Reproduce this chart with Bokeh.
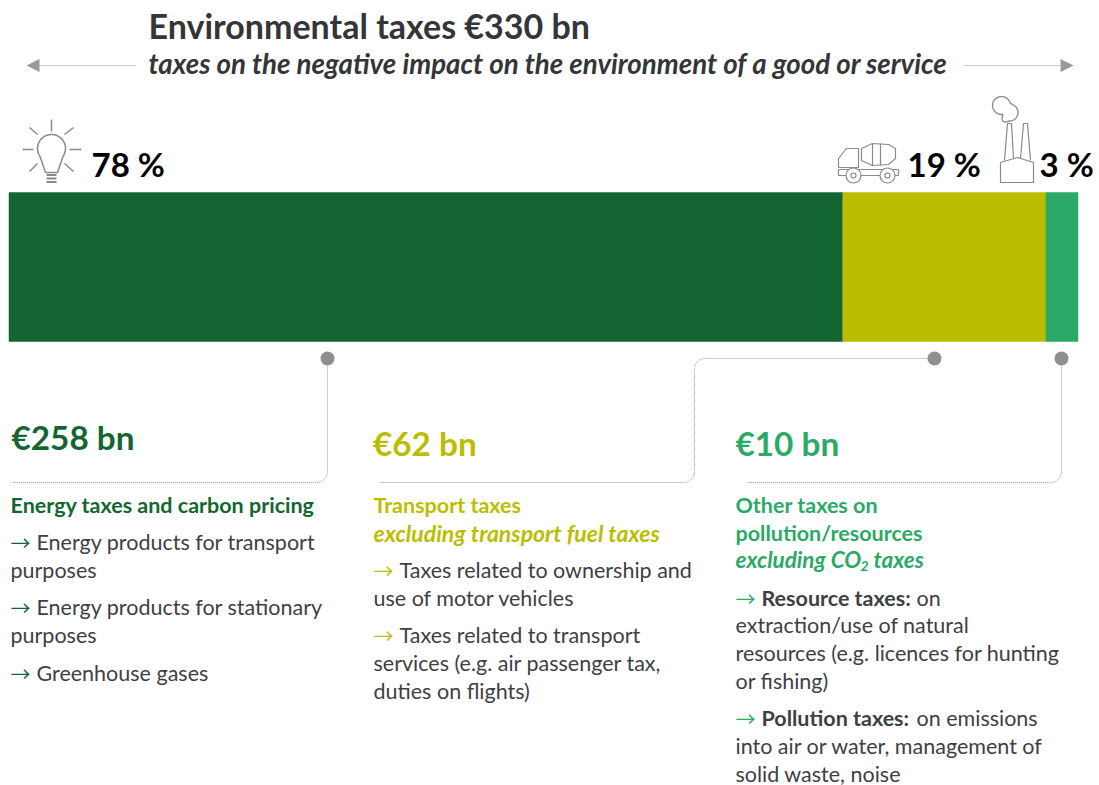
from bokeh.embed import file_html
from bokeh.resources import INLINE
from bokeh.plotting import figure
from bokeh.models import Range1d
from bokeh.core.properties import value
import numpy as np

# ---- data ----
categories = ["Energy taxes and carbon pricing", "Transport taxes", "Other taxes"]
shares = [78, 19, 3]
amounts = ["€258 bn", "€62 bn", "€10 bn"]
colors = ["#136631", "#BBBE00", "#2BAA67"]
share_labels = ["78 %", "19 %", "3 %"]

FONT = "Lato"
DARK = "#333539"
BODYC = "#3E4044"
GREY = "#8F8F8F"
W, H = 1099, 785
BAR_L, BAR_R = 8.5, 1077.5

px_per_pct = (BAR_R - BAR_L) / 100
p = figure(width=W, height=H, output_backend="svg", toolbar_location=None,
           x_range=Range1d((0 - BAR_L) / px_per_pct, (W - BAR_L) / px_per_pct),
           y_range=Range1d(H, 0), min_border=0, outline_line_color=None,
           x_axis_type=None, y_axis_type=None)
p.grid.visible = False
p.background_fill_color = "white"
p.extra_x_ranges = {"px": Range1d(0, W)}

left = np.cumsum([0] + shares[:-1])
right = np.cumsum(shares)
p.hbar(y=[266.5] * 3, height=149, left=left.tolist(), right=right.tolist(), color=colors,
       line_color=colors, line_width=0.5)


def T(x, y, s, size, color=DARK, bold=False, italic=False, align="left", font=None):
    style = "bold italic" if bold and italic else "bold" if bold else "italic" if italic else "normal"
    p.text([x - 1], [y - 2], text=[s], x_range_name="px", text_font=value(font or FONT), text_font_size=f"{size}px",
           text_color=color, text_font_style=style, text_baseline="middle", text_align=align)


def L(xs, ys, color=GREY, width=1.0, dash="solid"):
    p.line(xs, ys, x_range_name="px", line_color=color, line_width=width, line_dash=dash)


def rounded_path(points, r=12):
    xs, ys = [], []
    pts = [np.array(q, float) for q in points]
    xs.append(pts[0][0]); ys.append(pts[0][1])
    for a, b, c in zip(pts, pts[1:], pts[2:]):
        u = (a - b) / np.linalg.norm(a - b)
        v = (c - b) / np.linalg.norm(c - b)
        for t in np.linspace(0, 1, 10):
            q = (1 - t) ** 2 * (b + u * r) + 2 * (1 - t) * t * b + t ** 2 * (b + v * r)
            xs.append(q[0]); ys.append(q[1])
    xs.append(pts[-1][0]); ys.append(pts[-1][1])
    return xs, ys


def arc(cx, cy, r, a0, a1, n=24):
    t = np.radians(np.linspace(a0, a1, n))
    return (cx + r * np.cos(t)).tolist(), (cy + r * np.sin(t)).tolist()


# ---- header ----
T(149, 27, "Environmental taxes €330 bn", 34, bold=True)
T(149, 65, "taxes on the negative impact on the environment of a good or service", 27.7, bold=True, italic=True)
L([38, 135], [65, 65], "#9A9A9A", 1, "1 1")
L([964, 1060], [65, 65], "#9A9A9A", 1, "1 1")
p.patch([26, 39, 39], [65, 58.5, 71.5], x_range_name="px", color="#9A9A9A", line_color=None)
p.patch([1073, 1060, 1060], [65, 58.5, 71.5], x_range_name="px", color="#9A9A9A", line_color=None)

# ---- share labels ----
T(92, 165, share_labels[0], 33, "#000000", bold=True)
T(908, 165, share_labels[1], 33, "#000000", bold=True)
T(1040, 165, share_labels[2], 33, "#000000", bold=True)

# ---- bulb icon ----
IC = "#8A8A8A"
bx, by = arc(51, 148, 14, -215, 35, 40)
L([45] + bx + [57, 45], [172] + by + [172, 172], IC, 1.5)
for yy in (174.5, 178, 181.5):
    L([46, 56], [yy, yy], IC, 1.8)
for x0, y0, x1, y1 in [(51, 119, 51, 131), (22, 149, 33, 149), (69, 149, 81, 149),
                       (29, 127, 37, 134), (73, 127, 64, 134), (29, 171, 37, 163), (73, 171, 64, 163)]:
    L([x0, x1], [y0, y1], IC, 1.5)

# ---- truck icon ----
L([838, 838, 846, 858, 858, 838], [167, 158, 148, 148, 167, 167], IC, 1.2)
L([838, 898, 898, 838, 838], [169, 169, 175, 175, 169], IC, 1.2)
L([861, 861, 872, 888, 895, 895, 888, 872, 861], [148, 160, 165, 164, 158, 148, 144, 143, 148], IC, 1.2)
L([872, 872], [143, 165], IC, 1.2)
L([880, 880], [143, 165], IC, 1.2)
p.scatter([853, 887], [175, 175], size=15, x_range_name="px", fill_color="white", line_color=IC, line_width=1.2)
p.scatter([853, 887], [175, 175], size=5, x_range_name="px", fill_color="white", line_color=IC, line_width=1.2)

# ---- factory icon ----
L([1000, 1000, 1033, 1033, 1017, 1000], [162, 182, 182, 162, 157, 162], IC, 1.2)
L([1004, 1007, 1011, 1013], [160, 123, 123, 158], IC, 1.2)
L([1020, 1023, 1027, 1030], [158, 123, 123, 160], IC, 1.2)
ax1, ay1 = arc(1001, 105, 9, 80, 345)
ax2, ay2 = arc(1009, 112, 8.5, -50, 90)
ax3, ay3 = arc(1005, 118, 3.5, 60, 200)
L(ax1 + ax2 + ax3 + ax1[:1], ay1 + ay2 + ay3 + ay1[:1], IC, 1.3)

# ---- connectors ----
CON = "#9C9C9C"
p.scatter([327, 934, 1061], [358, 358, 358], size=14, x_range_name="px", color=GREY, line_color=None)
xs, ys = rounded_path([(327, 365), (327, 482), (12, 482)])
L(xs, ys, CON, 1, "1 1")
xs, ys = rounded_path([(927, 358), (694, 358), (694, 482), (379, 482)])
L(xs, ys, CON, 1, "1 1")
xs, ys = rounded_path([(1061, 365), (1061, 482), (747, 482)])
L(xs, ys, CON, 1, "1 1")

# ---- amounts ----
T(12, 438, amounts[0], 33.3, colors[0], bold=True)
T(373.5, 444, amounts[1], 33.3, colors[1], bold=True)
T(736, 444, amounts[2], 33.3, colors[2], bold=True)

BODY = 21.5
HEAD = 21.5
HEADI = 23


def bullet(x, y, col, pieces):
    T(x, y + 1, "→", 20, col, font="Noto Sans CJK SC")
    cur = x + 26
    for s, b, dx in pieces:
        T(cur, y, s, BODY, BODYC, bold=b)
        cur += dx


# column 1
T(11, 506, "Energy taxes and carbon pricing", HEAD, colors[0], bold=True)
bullet(11, 543, colors[0], [("Energy products for transport", False, 0)])
T(11, 571, "purposes", BODY, BODYC)
bullet(11, 608, colors[0], [("Energy products for stationary", False, 0)])
T(11, 636, "purposes", BODY, BODYC)
bullet(11, 674, colors[0], [("Greenhouse gases", False, 0)])

# column 2
T(374, 506, "Transport taxes", HEAD, colors[1], bold=True)
T(374, 534, "excluding transport fuel taxes", HEADI, colors[1], bold=True, italic=True)
bullet(374, 571, colors[1], [("Taxes related to ownership and", False, 0)])
T(374, 599, "use of motor vehicles", BODY, BODYC)
bullet(374, 636, colors[1], [("Taxes related to transport", False, 0)])
T(374, 664, "services (e.g. air passenger tax,", BODY, BODYC)
T(374, 692, "duties on flights)", BODY, BODYC)

# column 3
T(736, 506, "Other taxes on", HEAD, colors[2], bold=True)
T(736, 534, "pollution/resources", HEAD, colors[2], bold=True)
T(736, 561, "excluding CO", 22.5, colors[2], bold=True, italic=True)
T(861, 567, "2", 14, colors[2], bold=True, italic=True)
T(874, 561, "taxes", 22.5, colors[2], bold=True, italic=True)
bullet(736, 599, colors[2], [("Resource taxes:", True, 155), ("on", False, 0)])
T(736, 626, "extraction/use of natural", BODY, BODYC)
T(736, 654, "resources (e.g. licences for hunting", BODY, BODYC)
T(736, 682, "or fishing)", BODY, BODYC)
bullet(736, 719, colors[2], [("Pollution taxes:", True, 155), ("on emissions", False, 0)])
T(736, 747, "into air or water, management of", BODY, BODYC)
T(736, 775, "solid waste, noise", BODY, BODYC)

open("out.html", "w").write(file_html(p, INLINE))
